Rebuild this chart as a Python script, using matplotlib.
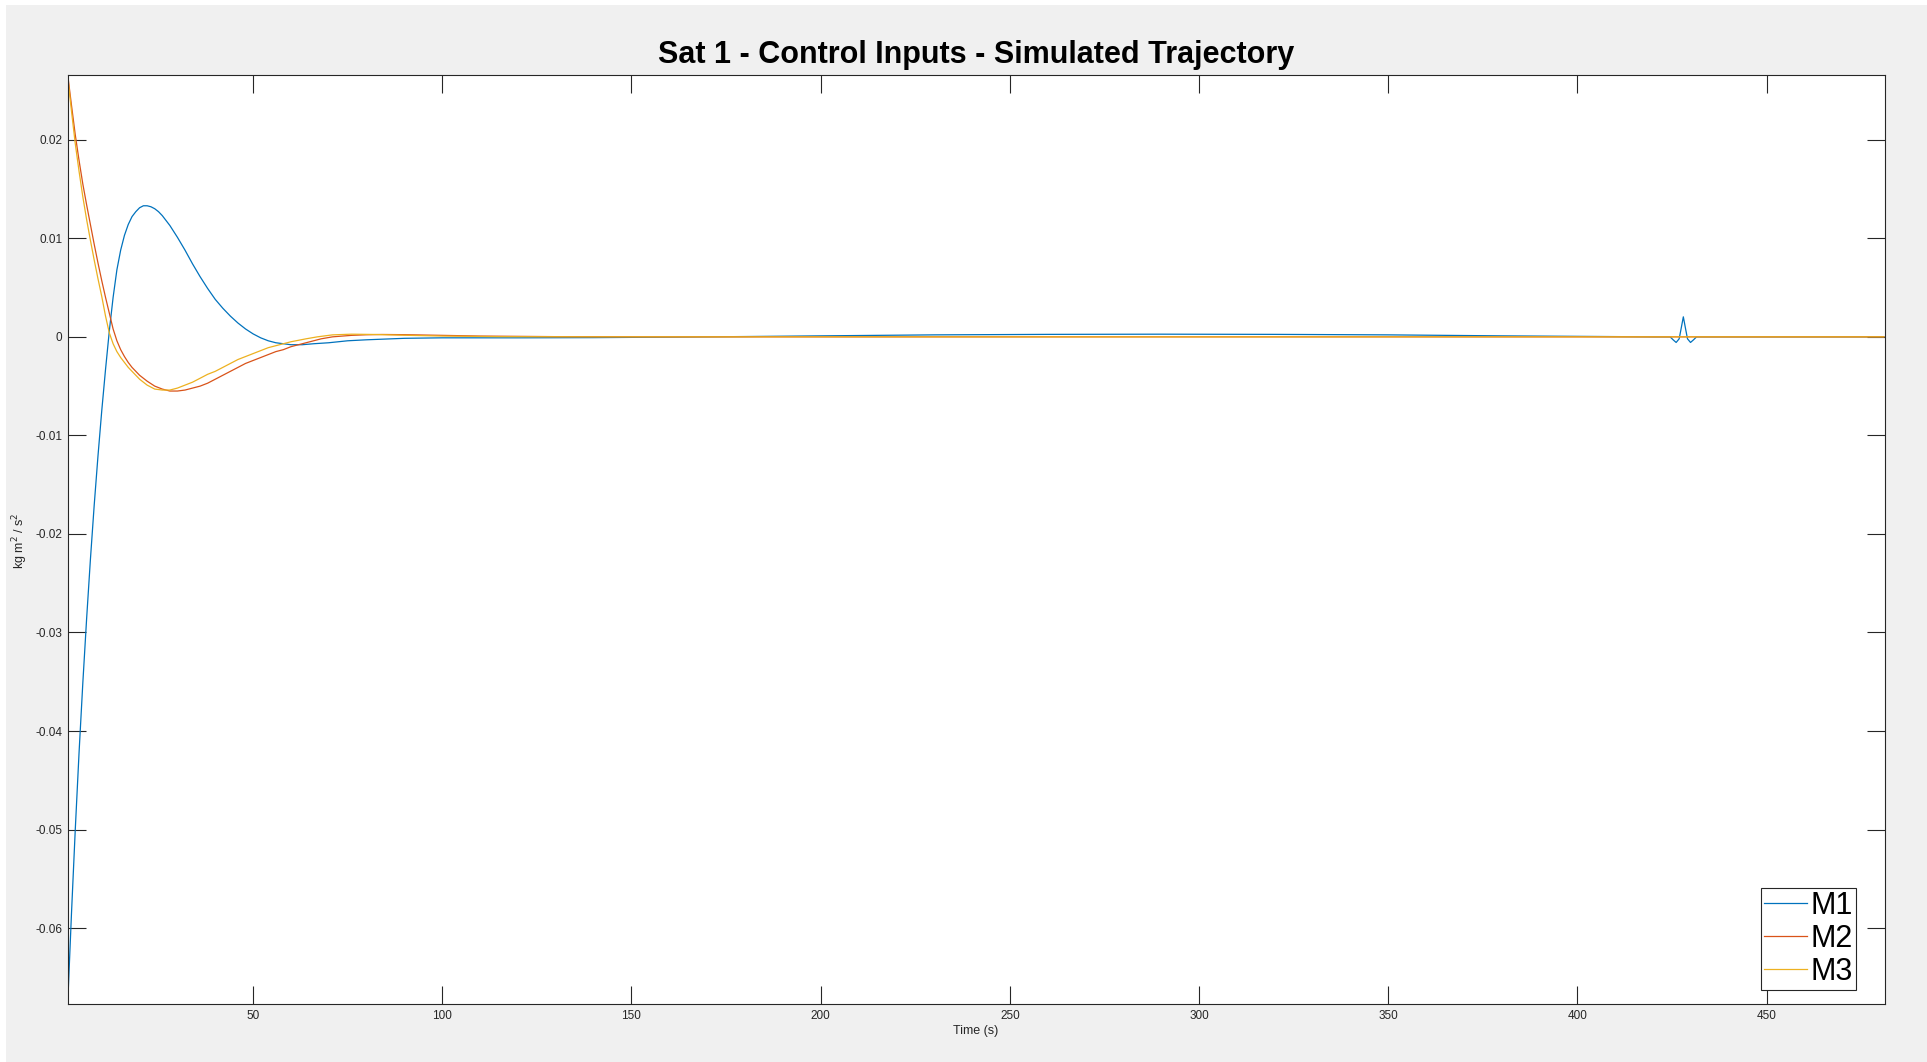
import matplotlib
matplotlib.use("Agg")
import matplotlib.pyplot as plt
from matplotlib.patches import Rectangle

plt.rcParams["font.family"] = ["Liberation Sans", "DejaVu Sans"]
plt.rcParams["axes.unicode_minus"] = False

# M1 (blue)
t_m1 = [1, 2, 3, 4, 5, 6, 7, 8, 9, 10, 11, 12, 13, 14, 15, 16, 17, 18, 19, 20,
        21, 22, 23, 24, 25, 26, 27, 28, 29, 30, 32, 34, 36, 38, 40, 42, 44, 46,
        48, 50, 52, 54, 56, 58, 60, 63, 66, 70, 75, 80, 90, 100, 120, 140, 160,
        180, 200, 230, 260, 290, 320, 350, 380, 400, 420, 424.5, 425.3, 426.1,
        426.9, 427.4, 428.0, 428.6, 429.1, 429.9, 430.7, 431.5, 450, 481]
m1 = [-0.0677, -0.0585, -0.0500, -0.0422, -0.0351, -0.0286, -0.0226, -0.0171,
      -0.0121, -0.0075, -0.0033, 0.0006, 0.0040, 0.0068, 0.0088, 0.0103,
      0.0114, 0.0122, 0.0127, 0.0131, 0.0133, 0.0133, 0.0132, 0.0130, 0.0127,
      0.0123, 0.0118, 0.0113, 0.0107, 0.0101, 0.0088, 0.0074, 0.0061, 0.0049,
      0.0038, 0.0029, 0.0021, 0.0014, 0.0008, 0.0003, -0.0001, -0.0004,
      -0.0006, -0.0007, -0.0008, -0.0008, -0.0007, -0.0006, -0.0004, -0.0003,
      -0.00015, -0.0001, -0.0001, -0.00008, -0.00003, 0.00003, 0.0001, 0.0002,
      0.00025, 0.00027, 0.00025, 0.0002, 0.0001, 0.00005, 0.0, 0.0, -0.0003,
      -0.00057, -0.0002, 0.0008, 0.00203, 0.0008, -0.0002, -0.00057, -0.0003,
      0.0, 0.0, 0.0]

# M2 (red)
t_m2 = [1, 2, 3, 4, 5, 6, 7, 8, 9, 10, 11, 12, 13, 14, 15, 16, 17, 18, 19, 20,
        22, 24, 26, 28, 30, 32, 34, 36, 38, 40, 42, 44, 46, 48, 50, 52, 54, 56,
        58, 60, 64, 68, 71, 76, 80, 84, 90, 100, 110, 130, 160, 481]
m2 = [0.0266, 0.0235, 0.0205, 0.0179, 0.0155, 0.0134, 0.0114, 0.0094, 0.0075,
      0.0057, 0.0040, 0.0024, 0.0008, -0.0004, -0.0013, -0.0020, -0.0026,
      -0.0031, -0.0035, -0.0039, -0.0045, -0.0050, -0.0053, -0.0055, -0.0055,
      -0.0054, -0.0052, -0.0050, -0.0047, -0.0043, -0.0039, -0.0035, -0.0031,
      -0.0027, -0.0024, -0.0021, -0.0018, -0.0015, -0.0013, -0.0010, -0.0006,
      -0.0002, 0.0, 0.00015, 0.00021, 0.00024, 0.00022, 0.00015, 0.00008,
      0.00002, 0.0, 0.0]

# M3 (yellow)
t_m3 = [1, 2, 3, 4, 5, 6, 7, 8, 9, 10, 11, 12, 13, 14, 15, 16, 17, 18, 20, 22,
        24, 26, 28, 30, 32, 34, 36, 38, 40, 42, 44, 46, 48, 50, 52, 54, 56, 58,
        60, 64, 67, 71, 76, 82, 90, 100, 115, 140, 481]
m3 = [0.0264, 0.0229, 0.0196, 0.0168, 0.0142, 0.0119, 0.0098, 0.0078, 0.0059,
      0.0041, 0.0021, 0.0004, -0.0007, -0.0015, -0.0021, -0.0026, -0.0031,
      -0.0035, -0.0043, -0.0049, -0.0053, -0.0054, -0.0054, -0.0052, -0.0049,
      -0.0046, -0.0042, -0.0038, -0.0035, -0.0031, -0.0027, -0.0023, -0.0020,
      -0.0017, -0.0014, -0.0011, -0.0009, -0.0007, -0.0005, -0.0002, 0.0,
      0.0002, 0.00027, 0.00024, 0.00016, 0.00008, 0.00002, 0.0, 0.0]

labels = ["M1", "M2", "M3"]
colors = ["#0072BD", "#D95319", "#EDB120"]

xticks = [50, 100, 150, 200, 250, 300, 350, 400, 450]
yticks = [-0.06, -0.05, -0.04, -0.03, -0.02, -0.01, 0, 0.01, 0.02]
ytick_labels = ["-0.06", "-0.05", "-0.04", "-0.03", "-0.02", "-0.01", "0",
                "0.01", "0.02"]

W, H = 1927, 1062
fig = plt.figure(figsize=(W / 100, H / 100), dpi=100, facecolor="white")
fig.patches.append(Rectangle((6 / W, 0), 1 - 6 / W, 1 - 5 / H,
                             transform=fig.transFigure, facecolor="#f0f0f0",
                             edgecolor="none", zorder=-10))

ax = fig.add_axes([67.7 / W, 1 - 1004 / H, (1885 - 67.7) / W, (1004 - 75) / H])
ax.set_facecolor("white")

for tt, vv, lab, col in zip([t_m1, t_m2, t_m3], [m1, m2, m3], labels, colors):
    ax.plot(tt, vv, color=col, lw=0.9, label=lab)

ax.set_xlim(1, 481.3)
ax.set_ylim(-0.0677, 0.02657)
ax.set_xticks(xticks)
ax.set_xticklabels([str(v) for v in xticks])
ax.set_yticks(yticks)
ax.set_yticklabels(ytick_labels)

ax.tick_params(direction="in", length=13, width=0.8, color="#262626",
               labelsize=8.5, labelcolor="#262626", top=True, right=True, pad=4)
for sp in ax.spines.values():
    sp.set_color("#262626")
    sp.set_linewidth(0.8)

fig.text(976 / W, 1 - 63 / H, "Sat 1 - Control Inputs - Simulated Trajectory",
         ha="center", va="baseline", fontsize=22, fontweight="bold")
fig.text(976 / W, 1 - 1031 / H, "Time (s)", ha="center", va="center",
         fontsize=9, color="#262626")
fig.text(20 / W, 1 - 541 / H, r"kg m$^2$ / s$^2$", ha="center", va="center",
         rotation=90, fontsize=9, color="#262626")

leg = ax.legend(loc="lower right", bbox_to_anchor=(0.9839, 0.0151),
                borderaxespad=0, fontsize=22, handlelength=1.4,
                handletextpad=0.12, borderpad=0.1, labelspacing=0.1,
                fancybox=False, framealpha=1)
leg.get_frame().set_edgecolor("#262626")
leg.get_frame().set_linewidth(0.8)

fig.savefig("out.png", dpi=100, facecolor=fig.get_facecolor())
